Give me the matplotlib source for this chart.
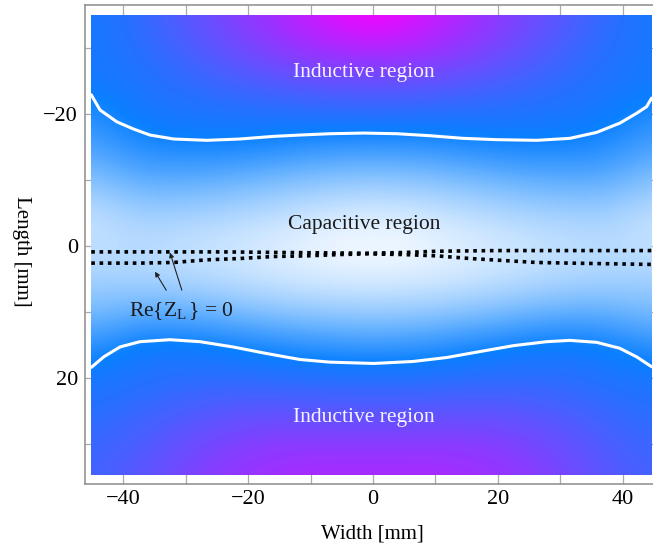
import numpy as np
import matplotlib
matplotlib.use("Agg")
import matplotlib.pyplot as plt
from matplotlib.colors import LinearSegmentedColormap, Normalize
from matplotlib.patches import Rectangle
from matplotlib.ticker import MultipleLocator

plt.rcParams["font.family"] = ["Liberation Serif", "DejaVu Serif"]
plt.rcParams["mathtext.fontset"] = "custom"
plt.rcParams["mathtext.rm"] = "Liberation Serif"
plt.rcParams["mathtext.it"] = "Liberation Serif:italic"

# Sample grid of the load-impedance map (colour level per cell)
width_mm = [-45, -37.5, -30, -22.5, -15, -7.5, 0, 7.5, 15, 22.5, 30, 37.5, 45]
length_mm = [-35, -30, -25, -20, -15, -10, -5, 0, 5, 10, 15, 20, 25, 30, 35]
level = [
    [7.4, 8.3, 9.5, 10.6, 11.5, 12.4, 13.0, 12.4, 11.5, 10.6, 9.5, 8.3, 7.4],
    [7.4, 8.0, 9.0, 10.0, 10.9, 11.5, 11.8, 11.5, 10.9, 10.0, 9.0, 8.0, 7.4],
    [7.4, 7.7, 8.3, 8.9, 9.5, 9.9, 10.0, 9.9, 9.5, 8.9, 8.3, 7.7, 7.4],
    [6.3, 7.5, 7.6, 7.8, 7.9, 8.1, 8.2, 8.1, 7.9, 7.8, 7.6, 7.4, 6.4],
    [5.4, 6.5, 6.8, 6.8, 6.5, 6.1, 6.0, 6.1, 6.5, 6.8, 6.8, 6.5, 5.4],
    [3.8, 5.0, 5.0, 4.7, 4.2, 3.8, 3.6, 3.8, 4.2, 4.7, 5.0, 5.0, 3.8],
    [2.2, 3.2, 3.1, 2.8, 2.3, 1.7, 1.5, 1.7, 2.3, 2.8, 3.1, 3.2, 2.2],
    [2.0, 2.3, 2.0, 1.6, 1.1, 0.5, 0.2, 0.5, 1.1, 1.6, 2.0, 2.3, 1.9],
    [3.0, 2.9, 2.6, 2.2, 1.7, 1.4, 1.3, 1.4, 1.7, 2.2, 2.6, 2.9, 3.0],
    [4.1, 4.8, 4.8, 4.2, 3.7, 3.4, 3.3, 3.4, 3.8, 4.3, 4.8, 4.8, 4.1],
    [6.1, 7.3, 7.3, 6.9, 6.4, 6.0, 5.8, 6.0, 6.5, 7.0, 7.3, 7.0, 6.1],
    [7.5, 7.8, 8.1, 8.2, 8.1, 8.0, 8.0, 8.0, 8.1, 8.2, 8.1, 7.8, 7.5],
    [8.0, 8.5, 9.1, 9.5, 9.6, 9.5, 9.4, 9.5, 9.6, 9.5, 9.1, 8.5, 8.0],
    [8.5, 9.1, 9.9, 10.5, 10.8, 10.8, 10.8, 10.8, 10.8, 10.5, 9.9, 9.1, 8.5],
    [8.8, 9.5, 10.4, 11.0, 11.4, 11.5, 11.5, 11.5, 11.4, 11.0, 10.4, 9.5, 8.8],
]

# Boundary between capacitive and inductive regions (Im{Z_L} = 0)
top_x = [-45.1, -43.7, -41.0, -38.3, -35.7, -31.9, -26.6, -21.3, -15.9, -11.7, -6.9,
         -1.5, 3.8, 9.1, 14.4, 19.8, 26.2, 31.5, 35.8, 39.5, 42.2, 43.8, 44.6]
top_y = [-22.9, -20.6, -18.8, -17.7, -16.8, -16.2, -16.0, -16.2, -16.6, -16.8, -17.0,
         -17.1, -17.0, -16.7, -16.3, -16.1, -16.0, -16.3, -17.2, -18.6, -20.1, -21.1, -22.4]
bot_x = [-45.1, -43.1, -40.5, -37.3, -32.5, -27.7, -22.4, -17.0, -11.7, -6.9, 0.1,
         6.4, 11.8, 17.1, 22.5, 27.8, 31.5, 35.8, 39.5, 42.2, 44.6]
bot_y = [18.4, 16.8, 15.3, 14.5, 14.2, 14.5, 15.3, 16.3, 17.2, 17.6, 17.8,
         17.5, 16.9, 16.0, 15.1, 14.5, 14.3, 14.6, 15.5, 16.8, 18.3]

# Re{Z_L} = 0 curves
re_up_x = [-45.1, -24.0, -13.3, -1.0, 4.8, 10.2, 20.0, 30.0, 44.6]
re_up_y = [0.9, 0.9, 1.0, 1.1, 1.0, 0.8, 0.7, 0.7, 0.7]
re_lo_x = [-45.1, -37.3, -31.9, -26.6, -21.3, -15.9, -10.6, -5.3, -1.0, 4.8,
           10.2, 15.5, 20.8, 26.1, 31.5, 44.6]
re_lo_y = [2.6, 2.6, 2.5, 2.1, 1.9, 1.6, 1.5, 1.3, 1.2, 1.3,
           1.5, 1.9, 2.2, 2.5, 2.6, 2.8]

palette = ["#ffffff", "#e3f1ff", "#c5e2ff", "#a4d1ff", "#80bfff", "#5aabff", "#3496ff",
           "#0a80ff", "#2570ff", "#4860ff", "#6c4cff", "#9436ff", "#c41cff", "#ff00ff"]
cmap = LinearSegmentedColormap.from_list("zl", palette)

fig = plt.figure(figsize=(6.53, 5.46), dpi=100)
ax = fig.add_axes([85 / 653, 62 / 546, 576 / 653, 479 / 546])

dx = width_mm[1] - width_mm[0]
dy = length_mm[1] - length_mm[0]
img = ax.imshow(np.array(level), cmap=cmap, norm=Normalize(0, len(palette) - 1),
                origin="lower", interpolation="bicubic", aspect="auto",
                extent=(width_mm[0] - dx / 2, width_mm[-1] + dx / 2,
                        length_mm[0] - dy / 2, length_mm[-1] + dy / 2),
                zorder=1)
img.set_clip_path(Rectangle((-45.1, -35.0), 89.7, 69.7, transform=ax.transData))

ax.plot(top_x, top_y, color="white", lw=2.2, zorder=3, solid_capstyle="round")
ax.plot(bot_x, bot_y, color="white", lw=2.2, zorder=3, solid_capstyle="round")
ax.plot(re_up_x, re_up_y, color="black", lw=2.6, ls=(0, (1, 1.3)), zorder=3)
ax.plot(re_lo_x, re_lo_y, color="black", lw=2.6, ls=(0, (1, 1.3)), zorder=3)

arrow = dict(arrowstyle="-|>", color="#222222", lw=0.8, mutation_scale=7,
             shrinkA=0, shrinkB=0)
ax.annotate("", xy=(-34.9, 3.9), xytext=(-33.1, 6.7), arrowprops=arrow, zorder=4)
ax.annotate("", xy=(-32.5, 1.0), xytext=(-30.6, 6.7), arrowprops=arrow, zorder=4)

ax.text(-39.1, 10.7, r"Re$\{\mathrm{Z}_{\mathrm{L}}\,\}$ = 0", fontsize=15.5,
        color="#1a1a1a", ha="left", va="baseline", zorder=4)
ax.text(-1.4, -25.6, "Inductive region", fontsize=15.5, color="#f6f2ff",
        ha="center", va="baseline", zorder=4)
ax.text(-1.4, 26.7, "Inductive region", fontsize=15.5, color="#f6f2ff",
        ha="center", va="baseline", zorder=4)
ax.text(-1.4, -2.5, "Capacitive region", fontsize=15.5, color="#1a1a1a",
        ha="center", va="baseline", zorder=4)

ax.set_xlim(-46.1, 46.1)
ax.set_ylim(36.06, -36.5)
ax.set_axisbelow(True)
ax.xaxis.set_major_locator(MultipleLocator(20))
ax.xaxis.set_minor_locator(MultipleLocator(10))
ax.yaxis.set_major_locator(MultipleLocator(20))
ax.yaxis.set_minor_locator(MultipleLocator(10))
ax.tick_params(which="both", direction="in", top=True, right=True, length=7,
               width=0.9, color="#aaaaaa")
ax.tick_params(axis="x", which="major", labelsize=16, pad=4)
ax.tick_params(axis="y", which="major", labelsize=16, pad=5)
for s in ax.spines.values():
    s.set_color("#8c8c8c")
    s.set_linewidth(1.1)

fig.text(372 / 653, 8 / 546, "Width [mm]", fontsize=15, ha="center", va="baseline")
fig.text(21 / 653, 1 - 251 / 546, "Length [mm]", fontsize=15, ha="center",
         va="center", rotation=-90)

fig.savefig("out.png", dpi=100)
